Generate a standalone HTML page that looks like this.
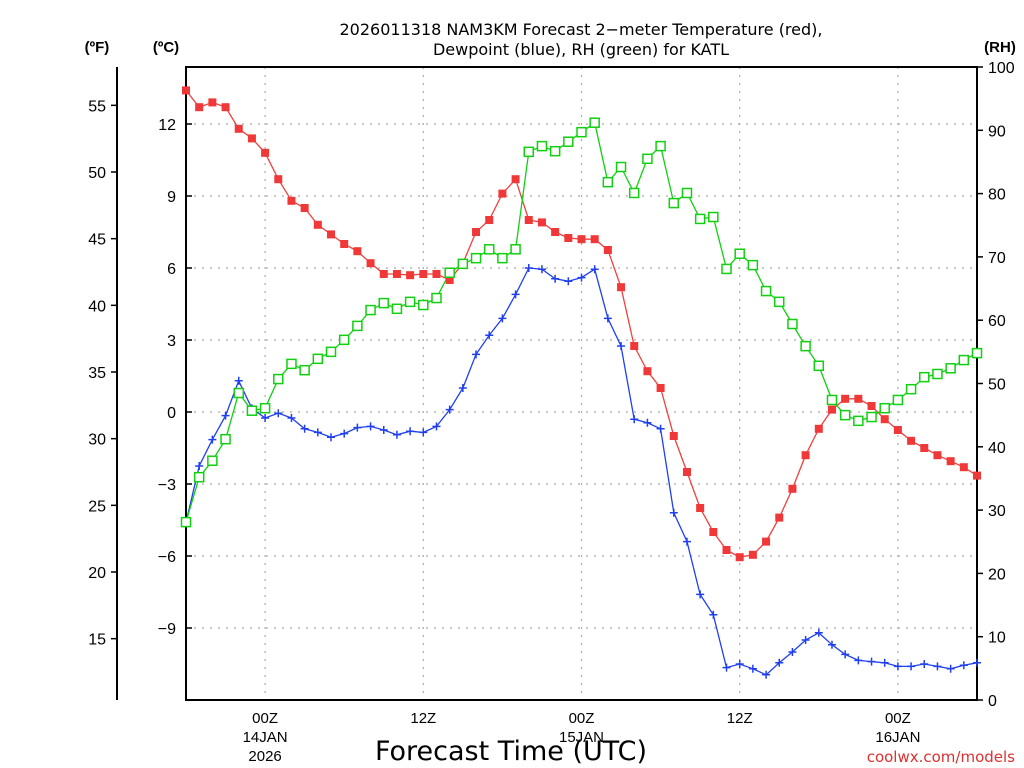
<!DOCTYPE html>
<html><head><meta charset="utf-8"><style>
html,body{margin:0;padding:0;background:#fff;}
svg{display:block;font-family:"Liberation Sans",sans-serif;}
</style></head><body>
<svg id="chart" width="1024" height="768" viewBox="0 0 1024 768" xmlns="http://www.w3.org/2000/svg">
<g font-family="DejaVu Sans, sans-serif" font-size="16" text-anchor="middle" fill="#000">
<text x="581" y="35">2026011318 NAM3KM Forecast 2−meter Temperature (red),</text>
<text x="581" y="55">Dewpoint (blue), RH (green) for KATL</text>
</g>
<text x="97" y="52" text-anchor="middle" font-size="15" font-weight="bold">(ºF)</text>
<text x="166" y="52" text-anchor="middle" font-size="15" font-weight="bold">(ºC)</text>
<text x="1000" y="52" text-anchor="middle" font-size="15" font-weight="bold">(RH)</text>
<g id="grid"></g>
<g id="axes"></g>
<g id="series"></g>
<text x="511" y="760" text-anchor="middle" font-family="DejaVu Sans, sans-serif" font-size="27">Forecast Time (UTC)</text>
<text x="1015" y="762" text-anchor="end" font-family="DejaVu Sans, sans-serif" font-size="15" fill="#e03030">coolwx.com/models</text>
</svg>
<script>
const tempC=[13.4,12.7,12.9,12.7,11.8,11.4,10.8,9.7,8.8,8.5,7.8,7.4,7.0,6.7,6.2,5.75,5.75,5.7,5.75,5.75,5.5,6.2,7.5,8.0,9.1,9.7,8.0,7.9,7.5,7.25,7.2,7.2,6.75,5.2,2.75,1.7,1.0,-1.0,-2.5,-4.0,-5.0,-5.75,-6.05,-5.95,-5.4,-4.4,-3.2,-1.8,-0.7,0.1,0.55,0.55,0.25,-0.3,-0.75,-1.2,-1.5,-1.8,-2.05,-2.3,-2.65];
const dewC=[-4.6,-2.25,-1.15,-0.15,1.3,0.15,-0.25,-0.05,-0.25,-0.7,-0.85,-1.05,-0.9,-0.65,-0.6,-0.75,-0.95,-0.8,-0.85,-0.6,0.1,1.0,2.4,3.2,3.9,4.9,6.0,5.95,5.55,5.45,5.6,5.95,3.9,2.75,-0.3,-0.45,-0.7,-4.2,-5.4,-7.6,-8.45,-10.65,-10.5,-10.7,-10.95,-10.45,-10.0,-9.5,-9.2,-9.7,-10.1,-10.35,-10.4,-10.45,-10.6,-10.6,-10.5,-10.6,-10.7,-10.55,-10.45];
const rh=[28.1,35.2,37.8,41.2,48.5,45.7,46.1,50.7,53.1,52.1,53.9,55.0,56.9,59.1,61.6,62.7,61.8,62.9,62.4,63.5,67.5,68.9,69.8,71.2,69.8,71.2,86.6,87.5,86.7,88.2,89.7,91.2,81.8,84.2,80.1,85.5,87.5,78.5,80.1,76.0,76.3,68.1,70.5,68.7,64.6,62.9,59.4,55.9,52.8,47.4,45.0,44.1,44.7,46.1,47.4,49.1,51.0,51.5,52.4,53.7,54.8];
const cTicks=[12,9,6,3,0,-3,-6,-9];
const cLabels=["12","9","6","3","0","−3","−6","−9"];
const fTicks=[55,50,45,40,35,30,25,20,15];
const rhTicks=[0,10,20,30,40,50,60,70,80,90,100];
const timeTickHours=[6,18,30,42,54];
const timeTickLabels=[["00Z","14JAN","2026"],["12Z"],["00Z","15JAN"],["12Z"],["00Z","16JAN"]];

const L=186,R=977,T=67,B=700;
const xH=h=>L+(R-L)*h/60;
const yC=c=>412-24*c;
const yF=f=>yC((f-32)*5/9);
const yRH=v=>B-(B-T)*v/100;
const NS="http://www.w3.org/2000/svg";
function mk(tag,attrs,parent,txt){const e=document.createElementNS(NS,tag);for(const k in attrs)e.setAttribute(k,attrs[k]);if(txt!==undefined)e.textContent=txt;parent.appendChild(e);return e;}
const grid=document.getElementById('grid'),axes=document.getElementById('axes'),ser=document.getElementById('series');

cTicks.forEach((c,i)=>{
 const y=yC(c);
 const g=mk('line',{x1:L,x2:R,y1:y,y2:y,stroke:'#aaa','stroke-width':1.2,'stroke-dasharray':'2,6'},grid);
 
 
 const t=mk('line',{x1:L,x2:L+6,y1:y,y2:y,stroke:'#000','stroke-width':1.5},axes);
 
 
 const l=mk('text',{x:176,y:y+6,'text-anchor':'end','font-size':16},axes,cLabels[i]);
 
 
});
timeTickHours.forEach((h,i)=>{
 const x=xH(h);
 const g=mk('line',{x1:x,x2:x,y1:T,y2:B,stroke:'#aaa','stroke-width':1.2,'stroke-dasharray':'2,6'},grid);
 
 
 timeTickLabels[i].forEach((s,j)=>{
  const l=mk('text',{x:x,y:723+j*19,'text-anchor':'middle','font-size':15},axes,s);
  
  
 });
});
fTicks.forEach(f=>{
 const y=yF(f);
 const t=mk('line',{x1:111,x2:117,y1:y,y2:y,stroke:'#000','stroke-width':1.5},axes);
 
 
 const l=mk('text',{x:106,y:y+6,'text-anchor':'end','font-size':16},axes,String(f));
 
 
});
rhTicks.forEach(v=>{
 const y=yRH(v);
 const t=mk('line',{x1:R,x2:R+6,y1:y,y2:y,stroke:'#000','stroke-width':1.5},axes);
 
 
 const l=mk('text',{x:988,y:y+6,'text-anchor':'start','font-size':16},axes,String(v));
 
 
});
const fa=mk('line',{x1:117,x2:117,y1:67,y2:700,stroke:'#000','stroke-width':2},axes);


const fr=mk('rect',{x:L,y:T,width:R-L,height:B-T,fill:'none',stroke:'#000','stroke-width':2},axes);



function line(arr,yf,color,name){
 const pts=arr.map((v,i)=>xH(i).toFixed(1)+','+yf(v).toFixed(1)).join(' ');
 const p=mk('polyline',{points:pts,fill:'none',stroke:color,'stroke-width':1.3},ser);
 
 
}
line(tempC,yC,'#f04040','temperature');
line(dewC,yC,'#2040f0','dewpoint');
line(rh,yRH,'#10d010','rh');
tempC.forEach((v,i)=>{
 const m=mk('rect',{x:xH(i)-4,y:yC(v)-4,width:8,height:8,fill:'#f03838'},ser);
 
 
});
dewC.forEach((v,i)=>{
 const x=xH(i),y=yC(v);
 const m=mk('path',{d:`M${x-4},${y}H${x+4}M${x},${y-4}V${y+4}`,stroke:'#2040f0','stroke-width':1.5},ser);
 
 
});
rh.forEach((v,i)=>{
 const m=mk('rect',{x:xH(i)-4.5,y:yRH(v)-4.5,width:9,height:9,fill:'#fff',stroke:'#10d010','stroke-width':1.5},ser);
 
 
});
</script>
</body></html>
